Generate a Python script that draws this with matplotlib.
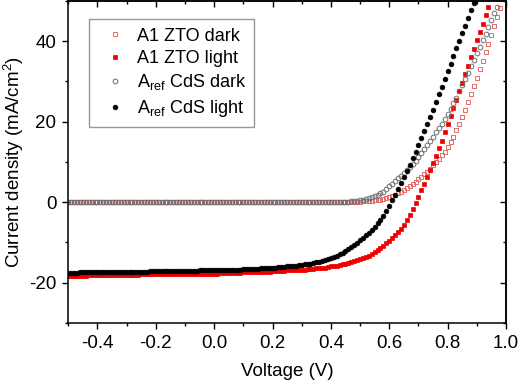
import numpy as np
import matplotlib
matplotlib.use("Agg")
import matplotlib.pyplot as plt
from matplotlib.ticker import MultipleLocator

plt.rcParams['font.family'] = ['Liberation Sans', 'DejaVu Sans']
plt.rcParams['mathtext.default'] = 'regular'

# Voltage sweep grid (V), 10 mV steps
voltage = np.round(np.arange(-0.50, 1.001, 0.01), 2)

# Current density (mA/cm^2), one per voltage step
zto_dark = [
    0.0, 0.0, 0.0, 0.0, 0.0, 0.0, 0.0, 0.0, 0.0, 0.0,   # -0.50..-0.41
    0.0, 0.0, 0.0, 0.0, 0.0, 0.0, 0.0, 0.0, 0.0, 0.0,   # -0.40..-0.31
    0.0, 0.0, 0.0, 0.0, 0.0, 0.0, 0.0, 0.0, 0.0, 0.0,   # -0.30..-0.21
    0.0, 0.0, 0.0, 0.0, 0.0, 0.0, 0.0, 0.0, 0.0, 0.0,   # -0.20..-0.11
    0.0, 0.0, 0.0, 0.0, 0.0, 0.0, 0.0, 0.0, 0.0, 0.0,   # -0.10..-0.01
    0.0, 0.0, 0.0, 0.0, 0.0, 0.0, 0.0, 0.0, 0.0, 0.0,   # 0.00..0.09
    0.0, 0.0, 0.0, 0.0, 0.0, 0.0, 0.0, 0.0, 0.0, 0.0,   # 0.10..0.19
    0.0, 0.0, 0.0, 0.0, 0.0, 0.0, 0.0, 0.0, 0.0, 0.0,   # 0.20..0.29
    0.0, 0.0, 0.0, 0.0, 0.0, 0.0, 0.0, 0.0, 0.0, 0.0,   # 0.30..0.39
    0.0, 0.0, 0.0, 0.0, 0.0, 0.0, 0.1, 0.1, 0.1, 0.1,   # 0.40..0.49
    0.1, 0.2, 0.2, 0.3, 0.3, 0.4, 0.5, 0.6, 0.7, 0.9,   # 0.50..0.59
    1.2, 1.5, 1.8, 2.2, 2.6, 3.0, 3.5, 4.0, 4.5, 5.1,   # 0.60..0.69
    5.7, 6.3, 6.9, 7.6, 8.3, 9.1, 9.9, 10.7, 11.6, 12.5,  # 0.70..0.79
    13.6, 14.9, 16.3, 17.8, 19.4, 21.1, 22.9, 24.8, 26.8, 28.8,  # 0.80..0.89
    30.9, 33.0, 35.1, 37.2, 39.4, 41.6, 43.8, 46.0, 48.2,  # 0.90..0.98
]

zto_light = [
    -18.4, -18.4, -18.3, -18.3, -18.3, -18.3, -18.3, -18.2, -18.2, -18.2,
    -18.2, -18.2, -18.2, -18.2, -18.2, -18.1, -18.1, -18.1, -18.1, -18.1,
    -18.1, -18.1, -18.1, -18.1, -18.1, -18.0, -18.0, -18.0, -18.0, -18.0,
    -18.0, -18.0, -18.0, -18.0, -18.0, -17.9, -17.9, -17.9, -17.9, -17.9,
    -17.9, -17.9, -17.9, -17.9, -17.9, -17.8, -17.8, -17.8, -17.8, -17.8,
    -17.8, -17.8, -17.7, -17.7, -17.7, -17.7, -17.6, -17.6, -17.6, -17.6,
    -17.5, -17.5, -17.4, -17.4, -17.4, -17.4, -17.3, -17.3, -17.3, -17.3,
    -17.2, -17.2, -17.1, -17.1, -17.1, -17.0, -17.0, -17.0, -16.9, -16.9,
    -16.8, -16.8, -16.7, -16.7, -16.6, -16.5, -16.5, -16.4, -16.3, -16.2,
    -16.0, -15.9, -15.8, -15.6, -15.5, -15.3, -15.2, -15.0, -14.7, -14.5,
    -14.2, -13.9, -13.6, -13.3, -12.9, -12.5, -12.0, -11.5, -10.9, -10.3,
    -9.6, -9.0, -8.3, -7.5, -6.6, -5.6, -4.4, -3.1, -1.7, -0.2,
    1.3, 2.9, 4.5, 6.2, 7.9, 9.7, 11.5, 13.4, 15.3, 17.3,
    19.3, 21.3, 23.4, 25.5, 27.6, 29.7, 31.8, 33.9, 36.0, 38.1,
    40.2, 42.3, 44.4, 46.5, 48.6,
]

cds_dark = [
    -0.1, -0.1, -0.1, -0.1, -0.1, -0.1, -0.1, -0.1, -0.1, -0.1,
    -0.1, -0.1, -0.1, -0.1, -0.1, -0.1, -0.1, -0.1, -0.1, -0.1,
    -0.1, -0.1, -0.1, -0.1, -0.1, -0.1, -0.1, -0.1, -0.1, -0.1,
    0.0, 0.0, 0.0, 0.0, 0.0, 0.0, 0.0, 0.0, 0.0, 0.0,
    0.0, 0.0, 0.0, 0.0, 0.0, 0.0, 0.0, 0.0, 0.0, 0.0,
    0.0, 0.0, 0.0, 0.0, 0.0, 0.0, 0.0, 0.0, 0.0, 0.0,
    0.0, 0.0, 0.0, 0.0, 0.0, 0.0, 0.0, 0.0, 0.0, 0.0,
    0.0, 0.0, 0.0, 0.0, 0.0, 0.0, 0.0, 0.0, 0.0, 0.0,
    0.0, 0.0, 0.0, 0.0, 0.0, 0.0, 0.0, 0.0, 0.0, 0.0,
    0.0, 0.0, 0.0, 0.0, 0.1, 0.1, 0.1, 0.2, 0.2, 0.3,
    0.4, 0.5, 0.7, 0.9, 1.2, 1.5, 1.8, 2.2, 2.6, 3.2,
    3.9, 4.6, 5.2, 5.9, 6.5, 7.2, 7.9, 8.6, 9.4, 10.2,
    11.1, 12.1, 13.1, 14.1, 15.1, 16.2, 17.3, 18.4, 19.5, 20.7,
    21.9, 23.2, 24.6, 26.0, 27.5, 29.0, 30.6, 32.2, 33.8, 35.4,
    37.0, 38.6, 40.2, 41.8, 43.5, 45.2, 46.9, 48.6,
]

cds_light = [
    -17.6, -17.6, -17.6, -17.6, -17.5, -17.5, -17.5, -17.5, -17.5, -17.5,
    -17.5, -17.5, -17.4, -17.4, -17.4, -17.4, -17.4, -17.4, -17.4, -17.4,
    -17.3, -17.3, -17.3, -17.3, -17.3, -17.3, -17.3, -17.3, -17.2, -17.2,
    -17.2, -17.2, -17.2, -17.2, -17.2, -17.2, -17.1, -17.1, -17.1, -17.1,
    -17.1, -17.1, -17.1, -17.1, -17.1, -17.0, -17.0, -17.0, -17.0, -17.0,
    -17.0, -17.0, -16.9, -16.9, -16.9, -16.9, -16.8, -16.8, -16.8, -16.8,
    -16.7, -16.7, -16.7, -16.6, -16.6, -16.6, -16.5, -16.5, -16.4, -16.4,
    -16.3, -16.3, -16.2, -16.2, -16.1, -16.0, -16.0, -15.9, -15.8, -15.7,
    -15.6, -15.5, -15.4, -15.3, -15.2, -15.0, -14.9, -14.7, -14.5, -14.2,
    -13.9, -13.7, -13.4, -13.0, -12.6, -12.2, -11.7, -11.2, -10.7, -10.1,
    -9.5, -8.9, -8.3, -7.6, -6.9, -6.2, -5.3, -4.4, -3.4, -2.2,
    -0.9, 0.4, 1.8, 3.2, 4.7, 6.2, 7.7, 9.3, 10.9, 12.5,
    14.2, 15.9, 17.6, 19.4, 21.2, 23.0, 24.9, 26.8, 28.7, 30.6,
    32.5, 34.4, 36.3, 38.2, 40.1, 42.0, 43.9, 45.8, 47.7, 49.6,
]

labels = ['A1 ZTO dark', 'A1 ZTO light',
          r'A$_{ref}$ CdS dark', r'A$_{ref}$ CdS light']

fig = plt.figure(figsize=(5.20, 3.83), dpi=100)
ax = fig.add_axes([0.1313, 0.1574, 0.8417, 0.8400])

ms_sq = 3.0
ms_ci = 3.4
ax.plot(voltage[:len(zto_dark)], zto_dark, ls='none', marker='s', ms=ms_sq,
        mfc='none', mec='#e36a6a', mew=0.7, label=labels[0])
ax.plot(voltage[:len(zto_light)], zto_light, ls='none', marker='s', ms=ms_sq,
        mfc='#ee0000', mec='#ee0000', mew=0.5, label=labels[1])
ax.plot(voltage[:len(cds_dark)], cds_dark, ls='none', marker='o', ms=ms_ci,
        mfc='none', mec='#6e6e6e', mew=0.7, label=labels[2])
ax.plot(voltage[:len(cds_light)], cds_light, ls='none', marker='o', ms=ms_ci,
        mfc='black', mec='black', mew=0.5, label=labels[3])

ax.set_xlim(-0.5, 1.0)
ax.set_ylim(-30, 50)
ax.xaxis.set_minor_locator(MultipleLocator(0.1))
ax.yaxis.set_minor_locator(MultipleLocator(10))
ax.set_xticks([-0.4, -0.2, 0.0, 0.2, 0.4, 0.6, 0.8, 1.0])
ax.set_xticklabels(['-0.4', '-0.2', '0.0', '0.2', '0.4', '0.6', '0.8', '1.0'])
ax.set_yticks([-20, 0, 20, 40])
ax.set_yticklabels(['-20', '0', '20', '40'])

for s in ax.spines.values():
    s.set_linewidth(1.1)
ax.tick_params(which='major', direction='out', length=4.5, width=1.0,
               labelsize=13.5, pad=4)
ax.tick_params(which='minor', direction='out', length=2.5, width=1.0)

# mirrored ticks pointing inward on top and right
top = ax.secondary_xaxis('top')
top.xaxis.set_major_locator(MultipleLocator(0.2))
top.xaxis.set_minor_locator(MultipleLocator(0.1))
top.tick_params(which='major', direction='in', length=4.5, width=1.0, labeltop=False)
top.tick_params(which='minor', direction='in', length=2.5, width=1.0)
top.spines['top'].set_linewidth(1.1)
right = ax.secondary_yaxis('right')
right.yaxis.set_major_locator(MultipleLocator(20))
right.yaxis.set_minor_locator(MultipleLocator(10))
right.tick_params(which='major', direction='in', length=4.5, width=1.0, labelright=False)
right.tick_params(which='minor', direction='in', length=2.5, width=1.0)
right.spines['right'].set_linewidth(1.1)

ax.set_xlabel('Voltage (V)', fontsize=13.5, labelpad=8)
ax.set_ylabel(r'Current density (mA/cm$^2$)', fontsize=13.5, labelpad=2)

leg = ax.legend(loc='upper left', bbox_to_anchor=(0.047, 0.9425),
                borderaxespad=0, fontsize=13, frameon=True, fancybox=False,
                edgecolor='#808080', handlelength=2.0, handletextpad=0.2,
                labelspacing=0.3, borderpad=0.45, markerscale=1.0)
leg.get_frame().set_linewidth(1.0)

fig.savefig('out.png', dpi=100)
